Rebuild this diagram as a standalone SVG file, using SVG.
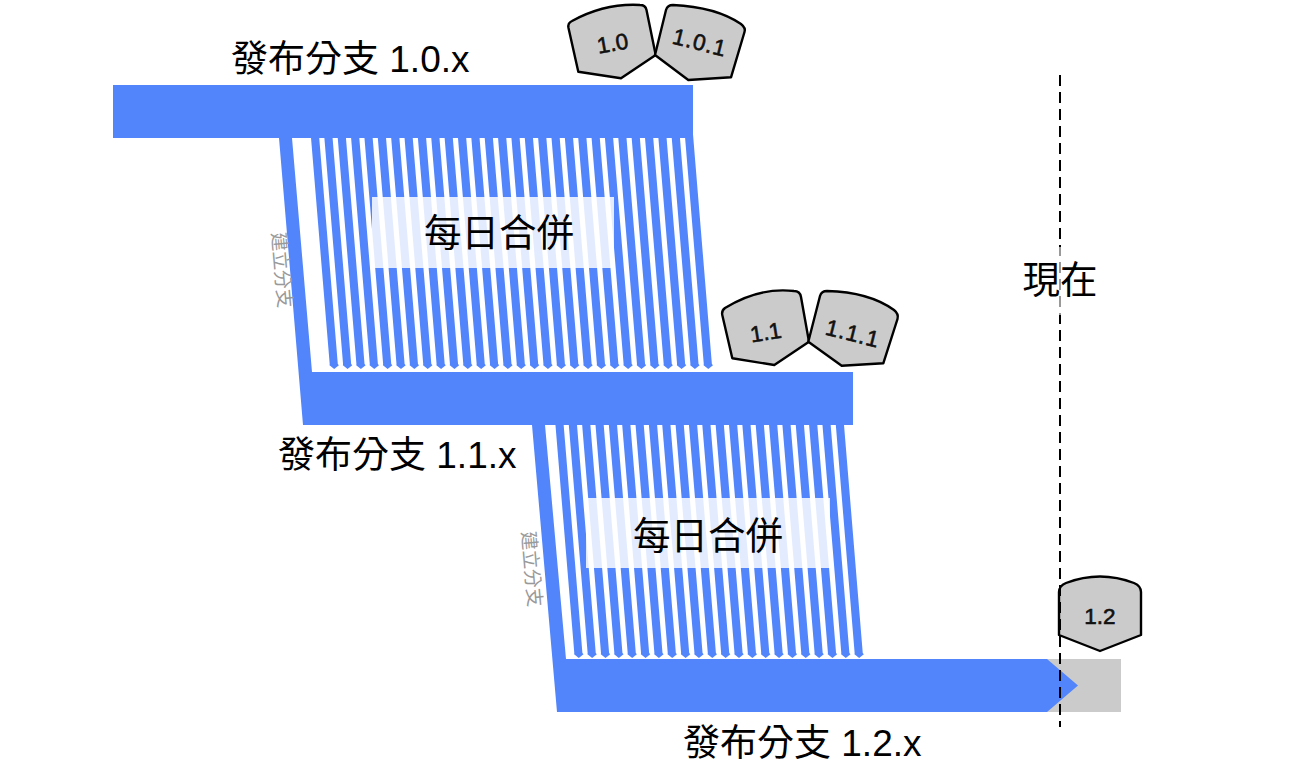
<svg xmlns="http://www.w3.org/2000/svg" width="1310" height="766" viewBox="0 0 1310 766">
<style>
.band{fill:#5285fb}
.tag{fill:#cbcbcb;stroke:#000;stroke-width:2.4;stroke-linejoin:round}
.tt{font-family:"Liberation Sans",Arial,sans-serif;font-size:22.500px;fill:#111;text-anchor:middle;stroke:#111;stroke-width:.6}
.ls{letter-spacing:1px}
.h{font-family:"Liberation Sans","Noto Sans CJK TC",sans-serif;font-size:37px;fill:#000}
.m{font-family:"Noto Sans CJK TC",sans-serif;font-size:37.500px;fill:#000;text-anchor:middle}
.v{font-family:"Noto Sans CJK TC",sans-serif;font-size:19px;fill:#999;text-anchor:middle}
.veil{fill:#fff;fill-opacity:.84}
</style>
<defs>
<polygon id="s" class="band" points="-4.5,-4 3.7,-4 22.6,226 23.7,227.2 19,231 14.3,227.2 14.5,226"/>
</defs>
<rect width="1310" height="766" fill="#fff"/>
<g id="connectors">
<use href="#s" x="315.2" y="138"/><use href="#s" x="328.56" y="138"/><use href="#s" x="341.92" y="138"/><use href="#s" x="355.28" y="138"/><use href="#s" x="368.64" y="138"/><use href="#s" x="382" y="138"/><use href="#s" x="395.36" y="138"/><use href="#s" x="408.72" y="138"/><use href="#s" x="422.08" y="138"/><use href="#s" x="435.44" y="138"/><use href="#s" x="448.8" y="138"/><use href="#s" x="462.16" y="138"/><use href="#s" x="475.52" y="138"/><use href="#s" x="488.88" y="138"/><use href="#s" x="502.24" y="138"/><use href="#s" x="515.6" y="138"/><use href="#s" x="528.96" y="138"/><use href="#s" x="542.32" y="138"/><use href="#s" x="555.68" y="138"/><use href="#s" x="569.04" y="138"/><use href="#s" x="582.4" y="138"/><use href="#s" x="595.76" y="138"/><use href="#s" x="609.12" y="138"/><use href="#s" x="622.48" y="138"/><use href="#s" x="635.84" y="138"/><use href="#s" x="649.2" y="138"/><use href="#s" x="662.56" y="138"/><use href="#s" x="675.92" y="138"/><use href="#s" x="689.28" y="138"/>
<use href="#s" x="559.8" y="427"/><use href="#s" x="573.15" y="427"/><use href="#s" x="586.5" y="427"/><use href="#s" x="599.85" y="427"/><use href="#s" x="613.2" y="427"/><use href="#s" x="626.55" y="427"/><use href="#s" x="639.9" y="427"/><use href="#s" x="653.25" y="427"/><use href="#s" x="666.6" y="427"/><use href="#s" x="679.95" y="427"/><use href="#s" x="693.3" y="427"/><use href="#s" x="706.65" y="427"/><use href="#s" x="720" y="427"/><use href="#s" x="733.35" y="427"/><use href="#s" x="746.7" y="427"/><use href="#s" x="760.05" y="427"/><use href="#s" x="773.4" y="427"/><use href="#s" x="786.75" y="427"/><use href="#s" x="800.1" y="427"/><use href="#s" x="813.45" y="427"/><use href="#s" x="826.8" y="427"/><use href="#s" x="840.15" y="427"/>
</g>
<g id="merge-1"><rect class="veil" x="372" y="197" width="242" height="71"/><text class="m" x="499" y="246">每日合併</text></g>
<g id="merge-2"><rect class="veil" x="586" y="498" width="244" height="70"/><text class="m" x="708" y="549">每日合併</text></g>
<g id="release-1-2-future"><rect x="1047" y="659" width="74" height="53" fill="#cbcbcb"/></g>
<g id="release-1-0"><rect class="band" x="113" y="85" width="580" height="53"/><text class="h" x="231" y="72">發布分支 1.0.x</text></g>
<g id="release-1-1"><polygon class="band" points="279,138 292,138 312,372 853,372 853,425 303,425"/><text class="h" x="278" y="468">發布分支 1.1.x</text></g>
<g id="release-1-2"><polygon class="band" points="532,425 545,425 566,659 1047,659 1078,685.500 1047,712 557,712"/><text class="h" x="683" y="756">發布分支 1.2.x</text></g>
<g id="branch-label-1"><text class="v" transform="translate(281 270) rotate(85)" y="6">建立分支</text></g>
<g id="branch-label-2"><text class="v" transform="translate(531 569) rotate(85)" y="6">建立分支</text></g>
<g id="tag-1-0"><path class="tag" d="M568.500,28Q567.500,23 572,21Q605,3 640,5Q645.500,5 646.500,10L655.700,55L621,78.300L578.300,71.700Z"/><text class="tt" transform="translate(614 51) rotate(-10)">1.0</text></g>
<g id="tag-1-0-1"><path class="tag" d="M666,10Q667.500,5 673,5Q716,7 741,24Q746,28 744.500,32L731,77.300L688.300,80L655,55Z"/><text class="tt ls" transform="translate(698 50) rotate(14)">1.0.1</text></g>
<g id="tag-1-1"><path class="tag" d="M722.500,316Q721,311 725,308Q759,287 794,291Q800,291 801,297L809,341.700L774.300,365L732.300,358.300Z"/><text class="tt" transform="translate(767 340) rotate(-9)">1.1</text></g>
<g id="tag-1-1-1"><path class="tag" d="M820,296Q821.500,291 827,291Q869,292 894,310Q899,314 897.500,319L883.300,363.300L841.700,365.700L808.300,341.700Z"/><text class="tt ls" transform="translate(851 341) rotate(14)">1.1.1</text></g>
<g id="tag-1-2"><path class="tag" d="M1059,592Q1059,586 1066,583Q1100,570 1134,583Q1141,586 1141,592L1141,635L1100,651L1059,635Z"/><text class="tt" x="1100" y="624">1.2</text></g>
<g id="now"><line x1="1060" y1="75" x2="1060" y2="727" stroke="#000" stroke-width="2" stroke-dasharray="11 6"/><rect x="1020" y="247" width="80" height="68" fill="#fff" fill-opacity=".6"/><text class="m" x="1060" y="293">現在</text></g>
</svg>
